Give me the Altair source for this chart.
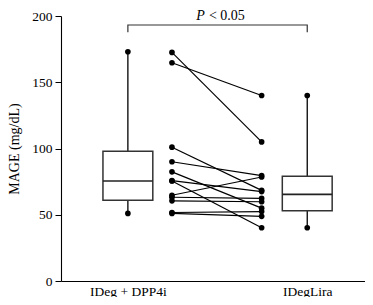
import altair as alt
import pandas as pd

categories = ["IDeg + DPP4i", "IDegLira"]
box_pos = [2.2, 8.1]        # category positions on the x scale
pair_pos = [3.65, 6.6]      # positions of the paired points
q1 = [61, 53]
median = [75.5, 65.4]
q3 = [98, 79]
whisk_lo = [51, 40.2]
whisk_hi = [173, 140]

left_vals = [172.5, 164.7, 101, 90, 82.4, 75.7, 75.5, 64.7, 63.2, 60.5, 51.7, 51]
right_vals = [105, 140, 68.4, 79.5, 55, 67.5, 40.2, 78.5, 62.3, 59.8, 52.4, 48.8]

y_ticks = [0, 50, 100, 150, 200]
bracket_y = 193.2
bracket_leg = 187.8
p_y = 197.2
p_label = ["P", "< 0.05"]

HALF = 0.82
FONT = "Liberation Serif"

box_df = pd.DataFrame({
    "cat": categories, "x": box_pos,
    "xl": [p - HALF for p in box_pos], "xr": [p + HALF for p in box_pos],
    "q1": q1, "med": median, "q3": q3, "lo": whisk_lo, "hi": whisk_hi,
})
ends_df = pd.DataFrame({
    "x": box_pos + box_pos,
    "y": whisk_lo + whisk_hi,
})
pairs = []
for i, (a, b) in enumerate(zip(left_vals, right_vals)):
    pairs.append({"pid": i, "x": pair_pos[0], "y": a})
    pairs.append({"pid": i, "x": pair_pos[1], "y": b})
pair_df = pd.DataFrame(pairs)

br_df = pd.DataFrame({
    "x": [box_pos[0], box_pos[0], box_pos[1], box_pos[1]],
    "y": [bracket_leg, bracket_y, bracket_y, bracket_leg],
    "o": [0, 1, 2, 3],
})
ptxt_df = pd.DataFrame({"x": [4.8], "y": [p_y], "p": [p_label[0]], "rest": [p_label[1]]})

xscale = alt.Scale(domain=[0, 10], nice=False, zero=False)
yscale = alt.Scale(domain=[0, 200], nice=False)

xaxis = alt.Axis(values=box_pos, ticks=False, title=None, grid=False,
                 labelExpr="datum.value < 5 ? 'IDeg + DPP4i' : 'IDegLira'",
                 labelFont=FONT, labelFontSize=13.5, labelColor="black",
                 labelPadding=3, domainColor="black", labelFlush=False)
yaxis = alt.Axis(values=y_ticks, title="MAGE (mg/dL)", grid=False,
                 titleFont=FONT, titleFontSize=14, titleFontWeight="normal",
                 titleColor="black", labelFont=FONT, labelFontSize=13.5,
                 labelColor="black", tickSize=6, tickColor="black",
                 domainColor="black", titlePadding=10, labelPadding=3)


def X(f="x"):
    return alt.X(f"{f}:Q", scale=xscale, axis=xaxis)


def Y(f="y"):
    return alt.Y(f"{f}:Q", scale=yscale, axis=yaxis)


whisk_low = alt.Chart(box_df).mark_rule(color="black", strokeWidth=1.3).encode(
    x=X(), y=Y("lo"), y2="q1")
whisk_high = alt.Chart(box_df).mark_rule(color="black", strokeWidth=1.3).encode(
    x=X(), y=Y("q3"), y2="hi")
boxes = alt.Chart(box_df).mark_rect(fill="white", stroke="#333333", strokeWidth=1.5).encode(
    x=X("xl"), x2="xr", y=Y("q1"), y2="q3")
meds = alt.Chart(box_df).mark_rule(color="#222222", strokeWidth=1.6).encode(
    x=X("xl"), x2="xr", y=Y("med"))
ends = alt.Chart(ends_df).mark_circle(color="black", opacity=1, size=32).encode(
    x=X(), y=Y())

lines = alt.Chart(pair_df).mark_line(color="black", strokeWidth=1.2).encode(
    x=X(), y=Y(), detail="pid:N")
pts = alt.Chart(pair_df).mark_circle(color="black", opacity=1, size=32).encode(
    x=X(), y=Y())

bracket = alt.Chart(br_df).mark_line(color="#333333", strokeWidth=1.2).encode(
    x=X(), y=Y(), order="o:Q")
ptxt1 = alt.Chart(ptxt_df).mark_text(font=FONT, fontSize=14, fontStyle="italic",
                                     align="right", baseline="alphabetic", dx=-2,
                                     color="black").encode(x=X(), y=Y(), text="p:N")
ptxt2 = alt.Chart(ptxt_df).mark_text(font=FONT, fontSize=14, align="left",
                                     baseline="alphabetic", dx=2,
                                     color="black").encode(x=X(), y=Y(), text="rest:N")

chart = alt.layer(whisk_low, whisk_high, boxes, meds, ends, lines, pts,
                  bracket, ptxt1, ptxt2).properties(
    width=304, height=265,
    autosize=alt.AutoSizeParams(type="none"),
    padding={"left": 53, "top": 8, "right": 0, "bottom": 16},
).configure_view(stroke=None).configure_axis(domainWidth=1.1)

chart.save("out.html", embed_options={"renderer": "svg", "actions": False})
